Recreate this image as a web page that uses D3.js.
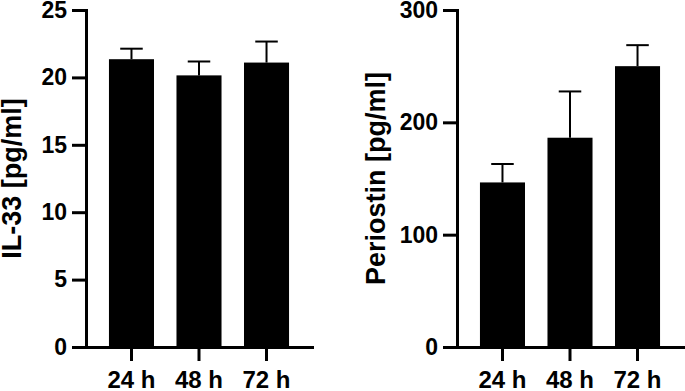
<!DOCTYPE html>
<html>
<head>
<meta charset="utf-8">
<script src="https://cdn.jsdelivr.net/npm/d3@7"></script>
<style>
  body { margin: 0; background: #fff; }
  svg { display: block; font-family: "Liberation Sans", Arial, sans-serif; font-weight: bold; }
</style>
</head>
<body>
<svg id="chart" width="685" height="391"></svg>
<script>
// categories and values
const timepoints = ["24 h", "48 h", "72 h"];
const il33Mean = [21.35, 20.15, 21.1];
const il33Sem = [0.78, 1.03, 1.56];
const il33Ticks = [0, 5, 10, 15, 20, 25];
const periostinMean = [146.5, 186.3, 250];
const periostinSem = [16.4, 41.2, 18.7];
const periostinTicks = [0, 100, 200, 300];

const svg = d3.select("#chart");
const plotTop = 10, plotBottom = 347;

function drawPanel(left, yMax, means, sems, ticks, title, titleX) {
  const g = svg.append("g");

  const x = d3.scaleBand()
    .domain(timepoints)
    .range([left, left + 226])
    .paddingInner(0.333)
    .paddingOuter(0.34);

  const y = d3.scaleLinear()
    .domain([0, yMax])
    .range([plotBottom, plotTop]);

  const rows = timepoints.map((t, i) => ({ t: t, v: means[i], e: sems[i] }));

  // bars
  g.selectAll("rect.bar")
    .data(rows).enter()
    .append("rect")
    .attr("class", "bar")
    .attr("x", d => x(d.t))
    .attr("y", d => y(d.v))
    .attr("width", x.bandwidth())
    .attr("height", d => y(0) - y(d.v))
    .attr("fill", "#000");

  // upper error bars (SEM)
  const cap = x.bandwidth() / 2;
  const eb = g.selectAll("g.err").data(rows).enter().append("g")
    .attr("stroke", "#000")
    .attr("stroke-width", 2);
  eb.append("line")
    .attr("x1", d => x(d.t) + x.bandwidth() / 2)
    .attr("x2", d => x(d.t) + x.bandwidth() / 2)
    .attr("y1", d => y(d.v))
    .attr("y2", d => y(d.v + d.e));
  eb.append("line")
    .attr("x1", d => x(d.t) + x.bandwidth() / 2 - cap / 2)
    .attr("x2", d => x(d.t) + x.bandwidth() / 2 + cap / 2)
    .attr("y1", d => y(d.v + d.e))
    .attr("y2", d => y(d.v + d.e));

  // axes
  const yAxis = g.append("g")
    .attr("transform", "translate(" + left + ",0)")
    .call(d3.axisLeft(y).tickValues(ticks).tickSize(14).tickSizeOuter(0).tickPadding(5));
  const xAxis = g.append("g")
    .attr("transform", "translate(0," + plotBottom + ")")
    .call(d3.axisBottom(x).tickSize(14).tickSizeOuter(0).tickPadding(10));

  [yAxis, xAxis].forEach(a => {
    a.selectAll("path, line").attr("stroke", "#000").attr("stroke-width", 3);
    a.select("path.domain").attr("stroke-linecap", "square");
    a.selectAll("text").attr("fill", "#000").style("font-size", "23px").style("font-weight", "bold");
  });
  xAxis.selectAll("text").style("font-size", "24px");

  g.append("text")
    .attr("transform", "translate(" + titleX + "," + (plotTop + plotBottom) / 2 + ") rotate(-90)")
    .attr("text-anchor", "middle")
    .attr("fill", "#000")
    .style("font-size", "27px")
    .text(title);
}

drawPanel(86, 25, il33Mean, il33Sem, il33Ticks, "IL-33 [pg/ml]", 21);
drawPanel(457, 300, periostinMean, periostinSem, periostinTicks, "Periostin [pg/ml]", 385);
</script>
</body>
</html>
